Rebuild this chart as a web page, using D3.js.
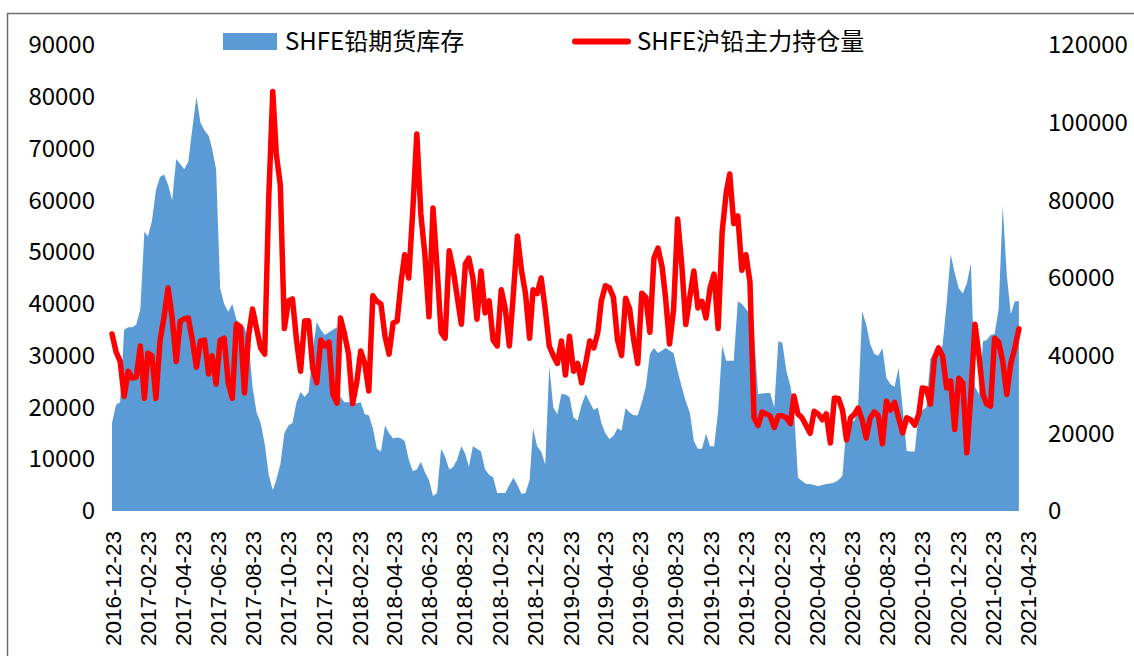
<!DOCTYPE html>
<html>
<head>
<meta charset="utf-8">
<script src="https://cdn.jsdelivr.net/npm/d3@7/dist/d3.min.js"></script>
<style>
  body { margin: 0; background: #fff; }
  svg { display: block; }
</style>
</head>
<body>
<svg width="1134" height="656"></svg>
<script>
// first and last trading day shown, series are roughly weekly samples between them
const startDate = "2016-12-23";
const lastDate = "2021-04-09";

const dateTicks = [
  "2016-12-23", "2017-02-23", "2017-04-23", "2017-06-23", "2017-08-23", "2017-10-23",
  "2017-12-23", "2018-02-23", "2018-04-23", "2018-06-23", "2018-08-23", "2018-10-23",
  "2018-12-23", "2019-02-23", "2019-04-23", "2019-06-23", "2019-08-23", "2019-10-23",
  "2019-12-23", "2020-02-23", "2020-04-23", "2020-06-23", "2020-08-23", "2020-10-23",
  "2020-12-23", "2021-02-23", "2021-04-23"
];
const leftTicks = [0, 10000, 20000, 30000, 40000, 50000, 60000, 70000, 80000, 90000];
const rightTicks = [0, 20000, 40000, 60000, 80000, 100000, 120000];

// SHFE铅期货库存 (left axis)
const inventory = [
  17000, 20500, 21000, 35000, 35500, 35500, 36000, 39000, 54000, 53000,
  56000, 62000, 64500, 65000, 63000, 60000, 68000, 67000, 66000, 67500,
  74000, 80000, 75000, 73500, 72500, 70000, 66000, 43000, 40000, 38500,
  40000, 37000, 36000, 35500, 33000, 24000, 19000, 17000, 13000, 7000,
  4000, 6000, 9000, 15000, 16500, 17000, 21000, 23000, 22000, 23000,
  31000, 36500, 35000, 34000, 34500, 35000, 35500, 22000, 21000, 21000,
  21000, 20800, 21000, 18700, 18500, 16000, 12000, 11500, 16500, 15000,
  14000, 14200, 14000, 13500, 10000, 7700, 8000, 9500, 7500, 6000,
  2900, 3500, 12000, 10500, 8000, 8500, 10000, 12500, 11000, 8500,
  12500, 12000, 11500, 8000, 7000, 6500, 3500, 3500, 3500, 5000,
  6400, 5000, 3300, 3500, 6000, 16000, 12500, 11500, 9000, 28000,
  20000, 18700, 22600, 22500, 22000, 18000, 17500, 20500, 22600, 21000,
  19500, 20000, 17000, 15000, 13900, 14500, 16000, 15500, 19900, 19000,
  18500, 18500, 21000, 24000, 30300, 31500, 30500, 31000, 31500, 31000,
  30500, 27000, 24000, 21200, 19000, 13500, 12000, 12000, 14900, 12500,
  12500, 19300, 31900, 29000, 29000, 29000, 40500, 40000, 39000, 38000,
  34200, 22600, 22700, 22800, 22800, 20000, 32800, 32500, 27000, 24100,
  20000, 6400, 5800, 5200, 5200, 5000, 4800, 5000, 5200, 5300,
  5500, 6000, 6800, 16800, 17000, 17500, 20000, 38600, 36000, 32200,
  30300, 30000, 31500, 25700, 24500, 24000, 27600, 19900, 11600, 11500,
  11500, 19300, 19500, 20000, 29500, 30000, 30500, 32000, 40000, 49600,
  46000, 43000, 42000, 44000, 47800, 24000, 22500, 32800, 33000, 34000,
  34200, 39000, 58900, 45700, 38000, 40500, 40500
];

// SHFE沪铅主力持仓量 (right axis)
const openInterest = [
  45600, 41000, 38600, 29500, 36000, 34200, 34500, 42500, 29000, 40700,
  40000, 29000, 43800, 50000, 57400, 49700, 38500, 48900, 49500, 49700,
  44000, 37000, 43800, 44000, 35300, 40000, 32700, 44000, 44500, 33000,
  29000, 48100, 47500, 30400, 45000, 52000, 47000, 42000, 40400, 80600,
  108000, 92000, 84000, 47000, 54100, 54600, 44000, 36000, 48900, 49000,
  36800, 33000, 44000, 42500, 43500, 30000, 27800, 49700, 45600, 40400,
  27600, 33000, 41200, 38000, 30900, 55400, 54000, 53300, 45000, 40400,
  48400, 48900, 59200, 66000, 60000, 77300, 97100, 76500, 66000, 50000,
  78000, 62600, 46000, 44500, 67000, 62000, 55000, 48100, 63600, 65100,
  60000, 49400, 61800, 51000, 54100, 44000, 42500, 57000, 52000, 42500,
  56000, 70800, 62000, 55900, 44500, 57000, 56000, 60000, 52000, 42500,
  40000, 38000, 43800, 35000, 45000, 36000, 38000, 33000, 38000, 43800,
  42000, 46000, 54100, 58000, 57500, 55000, 44000, 40000, 54800, 52000,
  44000, 38000, 56100, 55000, 46000, 65100, 67700, 63000, 55000, 43000,
  52000, 75200, 63600, 48000, 55000, 61800, 52300, 54000, 49700, 57400,
  61000, 47000, 72000, 82000, 86800, 74000, 76000, 62000, 66000, 59000,
  24000, 22000, 25500, 25000, 24500, 21500, 24500, 24500, 24000, 22500,
  29600, 25000, 24000, 22000, 20000, 25700, 25000, 23500, 25000, 17500,
  29100, 29000, 26000, 18300, 24000, 25000, 26500, 23500, 18800, 24000,
  25500, 24500, 17300, 28300, 26000, 28000, 24000, 20100, 24000, 23500,
  22100, 25000, 31700, 31500, 27500, 39400, 42000, 40000, 31700, 33500,
  21000, 34200, 33000, 15000, 30000, 48100, 40000, 30000, 27600, 27000,
  44500, 43500, 38600, 30000, 38000, 42000, 46900
];

const svg = d3.select("svg"),
  margin = { top: 45, right: 107, bottom: 145, left: 112 },
  width = +svg.attr("width") - margin.left - margin.right,
  height = +svg.attr("height") - margin.top - margin.bottom;

const parse = d3.timeParse("%Y-%m-%d");
const t0 = parse(startDate),
  t1 = parse(lastDate);
const span = d3.timeDay.count(t0, t1);
const n = inventory.length;

const data = inventory.map(function(v, i) {
  return {
    date: d3.timeDay.offset(t0, Math.round((i * span) / (n - 1))),
    stock: v,
    oi: openInterest[i]
  };
});

const x = d3
  .scaleTime()
  .domain([parse(dateTicks[0]), parse(dateTicks[dateTicks.length - 1])])
  .range([0, width]);
const yLeft = d3.scaleLinear().domain([0, 90000]).range([height, 0]);
const yRight = d3.scaleLinear().domain([0, 120000]).range([height, 0]);

// outer chart frame
svg
  .append("rect")
  .attr("x", 7.5)
  .attr("y", 13.5)
  .attr("width", 1200)
  .attr("height", 700)
  .attr("fill", "none")
  .attr("stroke", "#6e6e6e")
  .attr("stroke-width", 1.5);

const g = svg
  .append("g")
  .attr("transform", "translate(" + margin.left + "," + margin.top + ")");

g.append("path")
  .datum(data)
  .attr("fill", "#5b9bd5")
  .attr(
    "d",
    d3
      .area()
      .x(d => x(d.date))
      .y0(height)
      .y1(d => yLeft(d.stock))
  );

g.append("path")
  .datum(data)
  .attr("fill", "none")
  .attr("stroke", "#ff0000")
  .attr("stroke-width", 5.5)
  .attr("stroke-linejoin", "round")
  .attr("stroke-linecap", "round")
  .attr(
    "d",
    d3
      .line()
      .x(d => x(d.date))
      .y(d => yRight(d.oi))
  );

const numFont = "'Noto Sans CJK SC', 'Noto Sans', sans-serif";

const axL = g
  .append("g")
  .call(d3.axisLeft(yLeft).tickValues(leftTicks).tickSize(0).tickPadding(17).tickFormat(d3.format("d")));
axL.select(".domain").remove();
axL.selectAll("text").attr("font-family", numFont).attr("font-size", 24).attr("fill", "#000");

const axR = g
  .append("g")
  .attr("transform", "translate(" + width + ",0)")
  .call(d3.axisRight(yRight).tickValues(rightTicks).tickSize(0).tickPadding(21).tickFormat(d3.format("d")));
axR.select(".domain").remove();
axR.selectAll("text").attr("font-family", numFont).attr("font-size", 24).attr("fill", "#000");

const axB = g
  .append("g")
  .attr("transform", "translate(0," + height + ")")
  .call(
    d3
      .axisBottom(x)
      .tickValues(dateTicks.map(parse))
      .tickSize(0)
      .tickFormat(d3.timeFormat("%Y-%m-%d"))
  );
axB.select(".domain").remove();
axB
  .selectAll("text")
  .attr("font-family", "'Liberation Sans', Arial, sans-serif")
  .attr("font-size", 22.5)
  .attr("fill", "#000")
  .attr("transform", "rotate(-90)")
  .attr("text-anchor", "end")
  .attr("x", -20)
  .attr("y", 0)
  .attr("dy", "0.36em");

// legend
const legend = svg.append("g").attr("font-family", numFont).attr("font-size", 24);
legend
  .append("rect")
  .attr("x", 223)
  .attr("y", 33)
  .attr("width", 54)
  .attr("height", 17)
  .attr("fill", "#5b9bd5");
legend
  .append("text")
  .attr("x", 285)
  .attr("y", 42)
  .attr("dy", "0.35em")
  .text("SHFE铅期货库存");
legend
  .append("line")
  .attr("x1", 575)
  .attr("x2", 628)
  .attr("y1", 41.5)
  .attr("y2", 41.5)
  .attr("stroke", "#ff0000")
  .attr("stroke-width", 6)
  .attr("stroke-linecap", "round");
legend
  .append("text")
  .attr("x", 637)
  .attr("y", 42)
  .attr("dy", "0.35em")
  .text("SHFE沪铅主力持仓量");
</script>
</body>
</html>
